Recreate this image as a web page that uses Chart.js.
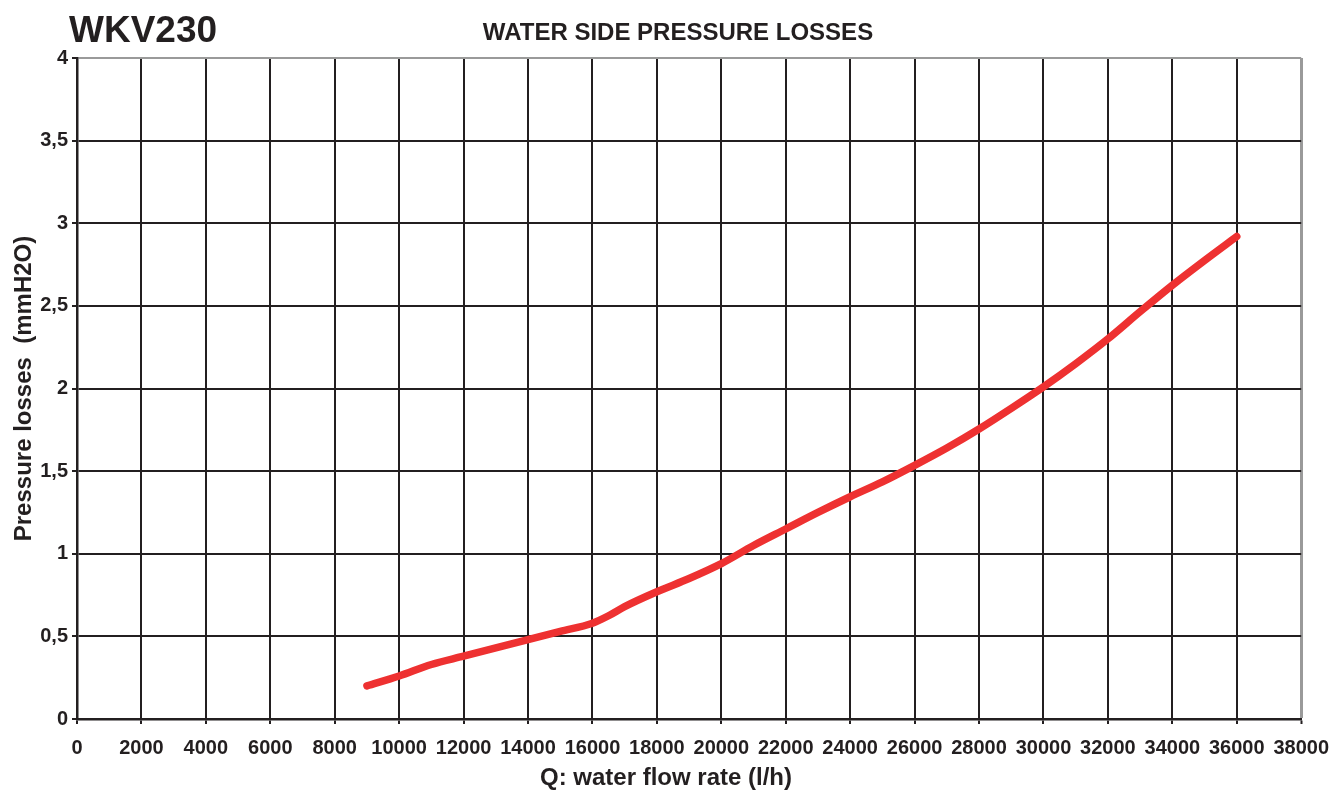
<!DOCTYPE html>
<html>
<head>
<meta charset="utf-8">
<title>WKV230 - Water side pressure losses</title>
<script src="https://cdn.jsdelivr.net/npm/chart.js@4.4.1/dist/chart.umd.min.js"></script>
<style>
    body { margin: 0; background: #fff; }
    #wrap { position: relative; width: 1341px; height: 791px; }
    .label { position: absolute; font-family: "Liberation Sans", Arial, sans-serif; font-weight: bold; color: #231f20; white-space: nowrap; }
    #model { left: 69px; top: 11px; font-size: 37px; line-height: 37px; }
    #heading { left: 478px; width: 400px; text-align: center; top: 20px; font-size: 24px; line-height: 24px; }
    #xtitle { left: 540px; top: 765px; font-size: 24px; line-height: 24px; }
</style>
</head>
<body>
<div id="wrap">
    <canvas id="lossChart"></canvas>
    <div class="label" id="model">WKV230</div>
    <div class="label" id="heading">WATER SIDE PRESSURE LOSSES</div>
    <div class="label" id="xtitle">Q: water flow rate (l/h)</div>
</div>
<script>
// water flow rate (l/h)
const flowRates = [9000, 10000, 11000, 12000, 13000, 14000, 15000, 16000, 16500, 17000, 18000,
    19000, 20000, 21000, 22000, 23000, 24000, 25000, 26000, 27000, 28000,
    29000, 30000, 31000, 32000, 33000, 34000, 35000, 36000];
// pressure losses (mmH2O)
const pressureLosses = [0.20, 0.26, 0.33, 0.38, 0.43, 0.48, 0.53, 0.58, 0.625, 0.68, 0.77,
    0.85, 0.94, 1.05, 1.15, 1.25, 1.345, 1.435, 1.535, 1.64, 1.755,
    1.88, 2.01, 2.15, 2.30, 2.465, 2.625, 2.775, 2.92];

const xMin = 0, xMax = 38000, xStep = 2000;
const yMin = 0, yMax = 4, yStep = 0.5;

const GRID = '#231f20';
const EDGE = '#9a9a9a';
const tickFont = { family: '"Liberation Sans", Arial, sans-serif', size: 20, weight: 'bold' };
const titleFont = { family: '"Liberation Sans", Arial, sans-serif', size: 24, weight: 'bold' };

const points = flowRates.map((q, i) => ({ x: q, y: pressureLosses[i] }));

new Chart(document.getElementById('lossChart'), {
    type: 'line',
    data: {
        datasets: [{
            label: 'WKV230',
            data: points,
            borderColor: '#ee3131',
            borderWidth: 7.5,
            borderCapStyle: 'round',
            borderJoinStyle: 'round',
            pointRadius: 0,
            cubicInterpolationMode: 'monotone',
            fill: false
        }]
    },
    options: {
        responsive: true,
        maintainAspectRatio: false,
        animation: false,
        layout: { padding: { top: 58, right: 39, left: 0, bottom: 0 } },
        plugins: {
            legend: { display: false },
            tooltip: { enabled: false }
        },
        scales: {
            x: {
                type: 'linear',
                min: xMin,
                max: xMax,
                afterFit: (scale) => { scale.height = 72; },
                ticks: {
                    stepSize: xStep,
                    autoSkip: false,
                    maxRotation: 0,
                    padding: 12,
                    color: GRID,
                    font: tickFont,
                    callback: (v) => String(v)
                },
                grid: {
                    color: (ctx) => ctx.tick && ctx.tick.value === xMax ? EDGE : GRID,
                    lineWidth: (ctx) => ctx.tick && ctx.tick.value === xMax ? 3 : 2,
                    drawTicks: true,
                    tickLength: 5,
                    tickColor: GRID,
                    tickWidth: 2
                },
                border: { display: true, color: GRID, width: 2.5 }
            },
            y: {
                type: 'linear',
                min: yMin,
                max: yMax,
                afterFit: (scale) => { scale.width = 77; },
                ticks: {
                    stepSize: yStep,
                    padding: 4,
                    color: GRID,
                    font: tickFont,
                    callback: (v) => String(v).replace('.', ',')
                },
                grid: {
                    color: (ctx) => ctx.tick && ctx.tick.value === yMax ? EDGE : GRID,
                    lineWidth: 2,
                    drawTicks: true,
                    tickLength: 5,
                    tickColor: GRID,
                    tickWidth: 2
                },
                border: { display: true, color: GRID, width: 2.5 },
                title: {
                    display: true,
                    text: 'Pressure losses  (mmH2O)',
                    color: GRID,
                    font: titleFont,
                    padding: { top: 10, bottom: 0 }
                }
            }
        }
    }
});
</script>
</body>
</html>
